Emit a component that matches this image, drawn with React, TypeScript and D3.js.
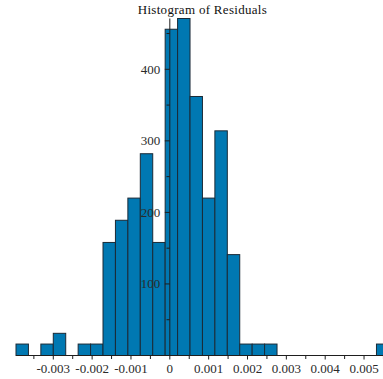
import React from "react";
import * as d3 from "d3";

// Histogram bins: left edge of the first bin and the common bin width
const binStart = -0.00396;
const binWidth = 0.00032;
// Residual counts per bin
const counts = [16, 0, 16, 31, 0, 16, 16, 158, 189, 220, 282, 158, 456, 471, 362, 220, 314, 141, 16, 16, 16, 0, 0, 0, 0, 0, 0, 0, 0, 16];

const xMajorTicks = [-0.003, -0.002, -0.001, 0, 0.001, 0.002, 0.003, 0.004, 0.005];
const xMinorTicks = [-0.0035, -0.0025, -0.0015, -0.0005, 0.0005, 0.0015, 0.0025, 0.0035, 0.0045, 0.0055];
const yMajorTicks = [100, 200, 300, 400];
const yMinorTicks = [50, 150, 250, 350, 450];

const title = "Histogram of Residuals";

const W = 383;
const H = 379;

export default function App() {
  const bins = counts.map((c, i) => ({
    x0: binStart + i * binWidth,
    x1: binStart + (i + 1) * binWidth,
    count: c,
  }));
  const xMax = binStart + counts.length * binWidth;
  const x = d3.scaleLinear().domain([binStart, xMax]).range([16, 388.9]);
  const y = d3.scaleLinear().domain([0, d3.max(counts) as number]).range([355.5, 18.5]);

  const fmt = (d: number) => (d === 0 ? "0" : d.toFixed(3));
  const axisColor = "#1e1e1e";
  const textColor = "#2a2a2a";
  const font = "'Liberation Serif', 'Times New Roman', serif";
  const x0 = x(0);

  return (
    <svg
      width={W}
      height={H}
      style={{ position: "absolute", left: 0, top: 0, background: "#fff" }}
    >
      <text
        x={(x.range()[0] + x.range()[1]) / 2}
        y={14}
        textAnchor="middle"
        fontFamily={font}
        fontSize={13}
        fill="#111"
        letterSpacing={0.3}
      >
        {title}
      </text>

      <g>
        {bins
          .filter((b) => b.count > 0)
          .map((b, i) => (
            <rect
              key={i}
              x={x(b.x0)}
              y={y(b.count)}
              width={x(b.x1) - x(b.x0)}
              height={y(0) - y(b.count)}
              fill="#0078b2"
              stroke="#1b2a36"
              strokeWidth={1}
            />
          ))}
      </g>

      {/* x axis */}
      <g>
        <line x1={x(binStart)} x2={W + 10} y1={y(0)} y2={y(0)} stroke={axisColor} strokeWidth={1} />
        {xMinorTicks.map((t) => (
          <line key={"xm" + t} x1={x(t)} x2={x(t)} y1={y(0)} y2={y(0) + 3.5} stroke={axisColor} />
        ))}
        {xMajorTicks.map((t) => (
          <g key={"xM" + t}>
            <line x1={x(t)} x2={x(t)} y1={y(0)} y2={y(0) + 4} stroke={axisColor} />
            <text
              x={x(t)}
              y={373}
              textAnchor="middle"
              fontFamily={font}
              fontSize={13}
              fill={textColor}
            >
              {fmt(t)}
            </text>
          </g>
        ))}
      </g>

      {/* y axis */}
      <g>
        <line x1={x0} x2={x0} y1={y.range()[1]} y2={y(0)} stroke={axisColor} strokeWidth={1} />
        {yMinorTicks.map((t) => (
          <line key={"ym" + t} x1={x0 - 3.3} x2={x0} y1={y(t)} y2={y(t)} stroke={axisColor} />
        ))}
        {yMajorTicks.map((t) => (
          <g key={"yM" + t}>
            <line x1={x0 - 5} x2={x0} y1={y(t)} y2={y(t)} stroke={axisColor} />
            <text
              x={x0 - 9.5}
              y={y(t)}
              dy="0.34em"
              textAnchor="end"
              fontFamily={font}
              fontSize={13}
              fill={textColor}
            >
              {t}
            </text>
          </g>
        ))}
      </g>
    </svg>
  );
}
